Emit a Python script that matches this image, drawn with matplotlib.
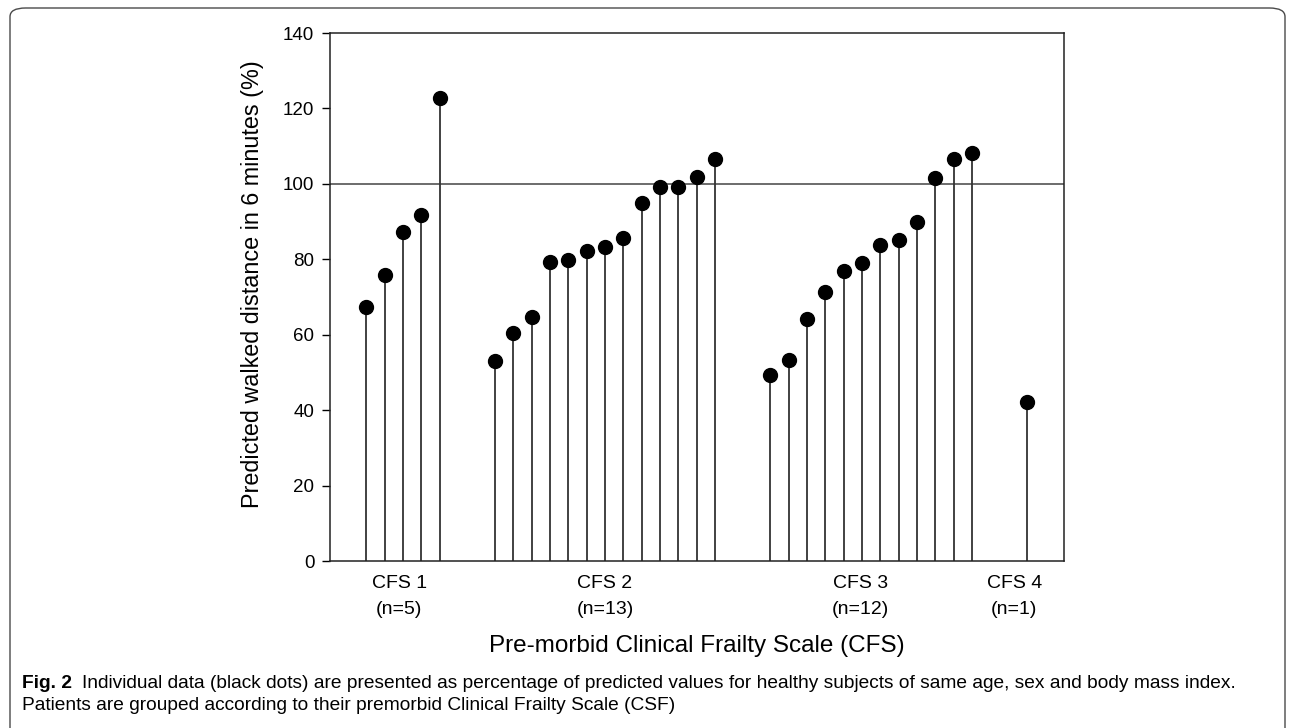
import matplotlib
matplotlib.use("Agg")
import matplotlib.pyplot as plt
import numpy as np
from matplotlib.patches import FancyBboxPatch

# predicted 6-minute walk distance (%) per patient, by pre-morbid CFS group
cfs1 = [67.3, 75.8, 87.3, 91.8, 122.7]
cfs2 = [53.1, 60.5, 64.8, 79.3, 79.9, 82.2, 83.3, 85.7, 95.0, 99.1, 99.1, 101.8, 106.6]
cfs3 = [49.3, 53.3, 64.1, 71.3, 76.8, 78.9, 83.7, 85.0, 89.8, 101.6, 106.7, 108.3]
cfs4 = [42.2]
groups = [cfs1, cfs2, cfs3, cfs4]
group_names = ["CFS 1", "CFS 2", "CFS 3", "CFS 4"]
reference = 100

plt.rcParams['font.family'] = ['Liberation Sans', 'DejaVu Sans']

fig = plt.figure(figsize=(12.95, 7.28), dpi=100)
W, H = 1295, 728

# rounded frame around the whole figure (bottom runs off the page)
frame = FancyBboxPatch((10 / W, -0.05), 1275 / W, 1.05 - 8 / H,
                       boxstyle="round,pad=0,rounding_size=0.012",
                       transform=fig.transFigure, fill=False,
                       edgecolor='#4a4a4a', lw=1.0)
fig.patches.append(frame)

ax = fig.add_axes([329.6 / W, 1 - 561 / H, (1064 - 329.6) / W, (561 - 33) / H])

# lay the groups out one slot apart, with a gap of 3 slots between groups
x_all, y_all = [], []
pos = 2
for g in groups:
    xs = pos + np.arange(len(g))
    x_all.extend(xs)
    y_all.extend(g)
    pos = xs[-1] + 3

ax.vlines(x_all, 0, y_all, color='#333333', lw=1.3, zorder=2)
ax.plot(x_all, y_all, 'o', color='black', ms=10, zorder=3)
ax.axhline(reference, color='#444444', lw=1.1, zorder=1)

ax.set_xlim(0, 40)
ax.set_ylim(0, 140)
ax.set_yticks(np.arange(0, 141, 20))
ax.tick_params(axis='y', direction='out', length=6, width=1, labelsize=13.5, pad=5)

label_pos = [3.8, 15.0, 28.9, 37.3]
counts = [len(g) for g in groups]
ax.set_xticks(label_pos)
ax.set_xticklabels([f"{n}\n(n={c})" for n, c in zip(group_names, counts)],
                   fontsize=14, linespacing=1.7)
ax.tick_params(axis='x', length=0, pad=10)

for s in ax.spines.values():
    s.set_linewidth(1.1)
    s.set_color('#222222')

fig.text(697 / W, 1 - 646 / H, "Pre-morbid Clinical Frailty Scale (CFS)",
         ha='center', va='center', fontsize=17.5)
fig.text(252 / W, 1 - 284 / H, "Predicted walked distance in 6 minutes (%)",
         ha='center', va='center', rotation=90, fontsize=16.8)

# caption
cap_font = ['Liberation Sans', 'DejaVu Sans']
t1 = fig.text(22 / W, 1 - 683 / H, "Fig. 2", ha='left', va='center',
              fontsize=13.8, fontweight='bold', family=cap_font)
fig.canvas.draw()
bb = t1.get_window_extent()
fig.text((bb.x1 + 10) / W, 1 - 683 / H,
         "Individual data (black dots) are presented as percentage of predicted values "
         "for healthy subjects of same age, sex and body mass index.",
         ha='left', va='center', fontsize=13.8, family=cap_font)
fig.text(22 / W, 1 - 705 / H,
         "Patients are grouped according to their premorbid Clinical Frailty Scale (CSF)",
         ha='left', va='center', fontsize=13.8, family=cap_font)

fig.savefig("out.png", dpi=100)
